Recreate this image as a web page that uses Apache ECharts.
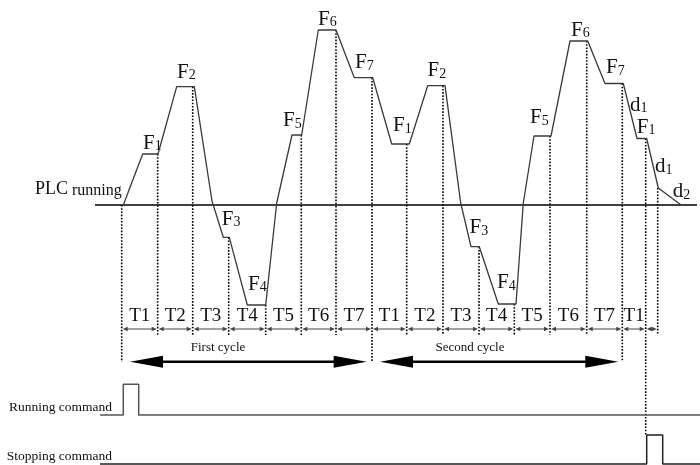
<!DOCTYPE html>
<html>
<head>
<meta charset="utf-8">
<script src="https://cdn.jsdelivr.net/npm/echarts@6/dist/echarts.min.js"></script>
<style>
  html, body { margin: 0; padding: 0; background: #fff; }
  #plcChart { width: 700px; height: 465px; }
</style>
</head>
<body>
<div id="plcChart"></div>
<script>
// output frequency over time (frequency 0 = the running line)
var freqTime = [123.3, 142.7, 158, 176.7, 194.3, 212, 223.3, 229.3, 247.3, 265.7,
  276.7, 292, 301.7, 318.3, 336, 354.3, 372.7, 391.7, 409.3, 427.7,
  445, 460.7, 471, 479.3, 498.3, 516, 523.3, 534, 551, 570,
  587.7, 605, 623.3, 637, 646.7, 658.3, 680.5];
var freqValue = [0, 51, 51, 118.3, 118.3, 4, -32.3, -32.3, -100, -100,
  2, 70, 70, 175, 175, 127.3, 127.3, 61, 61, 119.3,
  119.3, 2, -41.7, -41.7, -99, -99, 2, 69, 69, 164,
  164, 121.5, 121.5, 66.5, 66.5, 17, 0.5];
var zeroLine = [95, 697];

// segment boundaries (dotted lines)
var tBounds = [121.7, 157.7, 192.7, 228.7, 265.7, 301.3, 336, 372, 406.7, 443,
  479, 514.3, 550, 586.7, 622.3, 645.7, 657.7];
var boundTop = [0, 51, 118.3, -32.3, -100, 70, 175, 127.3, 61, 119.3,
  -41.7, -99, 69, 164, 121.5, 66.5, 17];
var boundBottom = [-157, -130, -130, -130, -130, -130, -130, -157, -130, -130,
  -130, -130, -130, -130, -157, -230, -130];
var tLabels = ['T1', 'T2', 'T3', 'T4', 'T5', 'T6', 'T7', 'T1', 'T2', 'T3', 'T4', 'T5', 'T6', 'T7', 'T1'];
var tLabelLevel = -111.3;
var tArrowLevel = -124;

// cycles
var cycleNames = ['First cycle', 'Second cycle'];
var cycleLabelX = [218, 470];
var cycleLabelLevel = -142.2;
var cycleStart = [130, 380];
var cycleEnd = [366.7, 618.3];
var cycleLevel = -156.7;

// frequency labels
var fNames = ['F1', 'F2', 'F3', 'F4', 'F5', 'F6', 'F7', 'F1', 'F2', 'F3', 'F4', 'F5', 'F6', 'F7', 'd1', 'F1', 'd1', 'd2'];
var fNameX = [143, 177, 221.7, 248, 283, 318, 355, 393, 427.5, 469.5, 497, 530, 571, 606, 630, 636.7, 655, 672.7];
var fNameY = [61.7, 133, -14, -79, 84.3, 186, 142.3, 79.2, 134.2, -22.5, -77.5, 87.5, 175, 137.5, 100, 78, 38.5, 13.5];

// commands
var runTime = [100, 123.3, 123.3, 138.7, 138.7, 700];
var runLevel = [-210, -210, -179.3, -179.3, -210, -210];
var stopTime = [100, 646.7, 646.7, 662.7, 662.7, 700];
var stopLevel = [-259, -259, -230, -230, -259, -259];
var sideNames = ['PLC running', 'Running command', 'Stopping command'];
var sideX = [35, 112, 112];
var sideY = [15.3, -202.4, -251];

var FONT = '"Liberation Serif", "DejaVu Serif", serif';

function zip(a, b) {
    return a.map(function (v, i) { return [v, b[i]]; });
}

function arrowRender(headLen, headHalf, width, color) {
    return function (params, api) {
        var a = api.coord([api.value(0), api.value(2)]);
        var b = api.coord([api.value(1), api.value(2)]);
        var y = a[1];
        return {
            type: 'group',
            children: [
                { type: 'line', shape: { x1: a[0] + headLen * 0.8, y1: y, x2: b[0] - headLen * 0.8, y2: y },
                  style: { stroke: color, lineWidth: width } },
                { type: 'polygon', shape: { points: [[a[0], y], [a[0] + headLen, y - headHalf], [a[0] + headLen, y + headHalf]] },
                  style: { fill: color } },
                { type: 'polygon', shape: { points: [[b[0], y], [b[0] - headLen, y - headHalf], [b[0] - headLen, y + headHalf]] },
                  style: { fill: color } }
            ]
        };
    };
}

var tArrowData = [];
for (var i = 0; i < tBounds.length - 1; i++) {
    tArrowData.push([tBounds[i] + 1, tBounds[i + 1] - 1, tArrowLevel]);
}
var tLabelData = tLabels.map(function (t, i) {
    return [(tBounds[i] + tBounds[i + 1]) / 2, tLabelLevel];
});

let myChart = echarts.init(document.getElementById('plcChart'));
myChart.setOption({
    backgroundColor: '#fff',
    animation: false,
    grid: { left: 0, right: 0, top: 0, bottom: 0 },
    xAxis: { type: 'value', min: 0, max: 700, show: false },
    yAxis: { type: 'value', min: -260, max: 205, show: false },
    series: [
        {
            name: 'zero',
            type: 'line',
            symbol: 'none',
            data: zeroLine.map(function (x) { return [x, 0]; }),
            lineStyle: { color: '#000', width: 1.3 }
        },
        {
            name: 'frequency',
            type: 'line',
            symbol: 'none',
            data: zip(freqTime, freqValue),
            lineStyle: { color: '#3a3a3a', width: 1.3 }
        },
        {
            name: 'bounds',
            type: 'custom',
            data: tBounds.map(function (x, i) { return [x, boundTop[i], boundBottom[i]]; }),
            renderItem: function (params, api) {
                var p1 = api.coord([api.value(0), api.value(1)]);
                var p2 = api.coord([api.value(0), api.value(2)]);
                return {
                    type: 'line',
                    shape: { x1: p1[0], y1: p1[1], x2: p2[0], y2: p2[1] },
                    style: { stroke: '#000', lineWidth: 1.6, lineDash: [1.6, 1.6] }
                };
            }
        },
        {
            name: 'tArrows',
            type: 'custom',
            data: tArrowData,
            renderItem: arrowRender(5, 2.2, 1, '#444')
        },
        {
            name: 'cycleArrows',
            type: 'custom',
            data: cycleStart.map(function (x, i) { return [x, cycleEnd[i], cycleLevel]; }),
            renderItem: arrowRender(33, 6, 2.4, '#000')
        },
        {
            name: 'running',
            type: 'line',
            symbol: 'none',
            data: zip(runTime, runLevel),
            lineStyle: { color: '#555', width: 1.5 }
        },
        {
            name: 'stopping',
            type: 'line',
            symbol: 'none',
            data: zip(stopTime, stopLevel),
            lineStyle: { color: '#222', width: 1.5 }
        },
        {
            name: 'tLabels',
            type: 'custom',
            data: tLabelData,
            renderItem: function (params, api) {
                var p = api.coord([api.value(0), api.value(1)]);
                return {
                    type: 'text',
                    style: { x: p[0], y: p[1], text: tLabels[params.dataIndex], fill: '#111',
                        fontSize: 19, fontFamily: FONT, align: 'center', verticalAlign: 'middle' }
                };
            }
        },
        {
            name: 'cycleLabels',
            type: 'custom',
            data: cycleLabelX.map(function (x) { return [x, cycleLabelLevel]; }),
            renderItem: function (params, api) {
                var p = api.coord([api.value(0), api.value(1)]);
                return {
                    type: 'text',
                    style: { x: p[0], y: p[1], text: cycleNames[params.dataIndex], fill: '#111',
                        fontSize: 13, fontFamily: FONT, align: 'center', verticalAlign: 'middle' }
                };
            }
        },
        {
            name: 'fLabels',
            type: 'custom',
            data: zip(fNameX, fNameY),
            renderItem: function (params, api) {
                var p = api.coord([api.value(0), api.value(1)]);
                var n = fNames[params.dataIndex];
                return {
                    type: 'text',
                    style: {
                        x: p[0], y: p[1],
                        text: '{m|' + n.charAt(0) + '}{s|' + n.slice(1) + '}',
                        align: 'left', verticalAlign: 'middle',
                        rich: {
                            m: { fontSize: 21, lineHeight: 21, fontFamily: FONT, fill: '#111', verticalAlign: 'bottom' },
                            s: { fontSize: 14, lineHeight: 13, fontFamily: FONT, fill: '#111', verticalAlign: 'bottom' }
                        }
                    }
                };
            }
        },
        {
            name: 'sideLabels',
            type: 'custom',
            data: zip(sideX, sideY),
            renderItem: function (params, api) {
                var p = api.coord([api.value(0), api.value(1)]);
                var i = params.dataIndex;
                if (i === 0) {
                    return {
                        type: 'text',
                        style: {
                            x: p[0], y: p[1], text: '{a|PLC}{b| running}',
                            align: 'left', verticalAlign: 'middle',
                            rich: {
                                a: { fontSize: 18, lineHeight: 18, fontFamily: FONT, fill: '#111', verticalAlign: 'bottom' },
                                b: { fontSize: 16, lineHeight: 16, fontFamily: FONT, fill: '#111', verticalAlign: 'bottom' }
                            }
                        }
                    };
                }
                return {
                    type: 'text',
                    style: { x: p[0], y: p[1], text: sideNames[i], fill: '#111',
                        fontSize: 13.5, fontFamily: FONT, align: 'right', verticalAlign: 'middle' }
                };
            }
        }
    ]
});
window.addEventListener('resize', function () {
    myChart.resize();
});
</script>
</body>
</html>
